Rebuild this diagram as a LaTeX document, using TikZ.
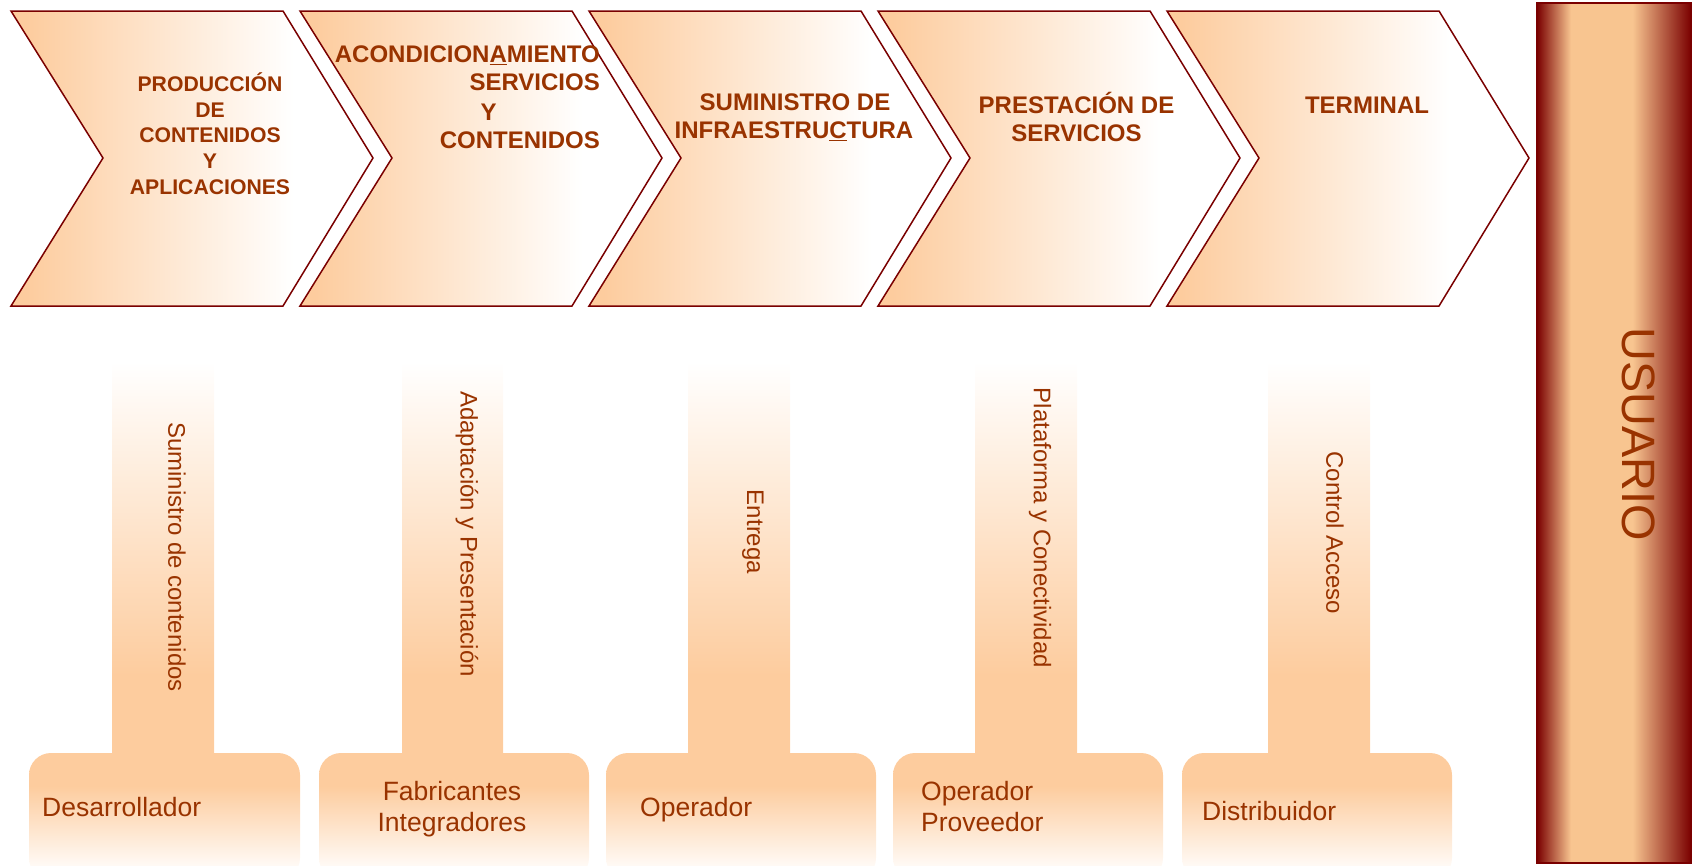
\documentclass[tikz,border=0pt]{standalone}
\usepackage{fontspec}
\setmainfont{Liberation Sans}
\definecolor{orng}{HTML}{FDCC9E}
\definecolor{txt}{HTML}{993300}
\definecolor{dkred}{HTML}{7A0000}
\definecolor{barlt}{HTML}{F8C590}
\pgfdeclarehorizontalshading{chevshade}{100bp}{color(0bp)=(orng); color(27bp)=(orng); color(64bp)=(white); color(100bp)=(white)}
\pgfdeclareverticalshading{stemshade}{100bp}{color(0bp)=(orng); color(34bp)=(orng); color(70bp)=(white); color(100bp)=(white)}
\pgfdeclareverticalshading{boxshade}{100bp}{color(0bp)=(white); color(27bp)=(white); color(62bp)=(orng); color(100bp)=(orng)}
\pgfdeclarehorizontalshading{barshade}{100bp}{color(0bp)=(dkred); color(25bp)=(dkred); color(36bp)=(barlt); color(56bp)=(barlt); color(75bp)=(dkred); color(100bp)=(dkred)}
\begin{document}
\begin{tikzpicture}[x=1pt,y=-1pt,
  chev/.style={draw=dkred, line width=1.5pt, shade, shading=chevshade},
  stem/.style={shade, shading=stemshade},
  pbox/.style={shade, shading=boxshade, rounded corners=22pt},
  hdA/.style={text=txt, inner sep=0pt, anchor=base, font=\bfseries\fontsize{21.2}{26}\selectfont},
  hdB/.style={text=txt, inner sep=0pt, anchor=base, font=\bfseries\fontsize{24}{28}\selectfont},
  vt/.style={text=txt, inner sep=0pt, rotate=-90, font=\fontsize{24}{28}\selectfont},
  bt/.style={text=txt, inner sep=0pt, anchor=base west, font=\fontsize{26.5}{31}\selectfont}]
\useasboundingbox (0,0) rectangle (1694,865);
% chevrons
\foreach \i in {0,...,4}{
  \pgfmathsetmacro\dx{289*\i}
  \path[chev] (11+\dx,11) -- (283+\dx,11) -- (373+\dx,158) -- (283+\dx,306) -- (11+\dx,306) -- (103+\dx,158) -- cycle;
}
% bottom boxes
\foreach \l/\r in {29/300,319/589,606/876,893/1163,1182/1452}{
  \path[pbox] (\l,880) -- (\l,753) -- (\r,753) -- (\r,880) -- cycle;
}
% stems
\foreach \l/\r in {112/214,402/503,688/790,975/1077,1268/1370}{
  \path[stem] (\l,318) rectangle (\r,754);
}
% user bar
\path[draw=dkred, line width=1.4pt, shade, shading=barshade] (1537,3) rectangle (1691,863);
\node[text=txt, inner sep=0pt, rotate=-90, font=\fontsize{46.8}{50}\selectfont] (usr) at (1639,434) {USUARIO};
% headings
\node[hdA] (h1a) at (210,91.5) {PRODUCCIÓN};
\node[hdA] (h1b) at (210,117) {DE};
\node[hdA] (h1c) at (210,142.7) {CONTENIDOS};
\node[hdA] (h1d) at (210,168.3) {Y};
\node[hdA] (h1e) at (210,194) {APLICACIONES};
\node[hdB, anchor=base east] (h2a) at (600,62.5) {ACONDICION\underline{A}MIENTO};
\node[hdB, anchor=base east] (h2b) at (600,90.7) {SERVICIOS};
\node[hdB] (h2c) at (488.5,120) {Y};
\node[hdB, anchor=base east] (h2d) at (600,148) {CONTENIDOS};
\node[hdB] (h3a) at (795,110) {SUMINISTRO DE};
\node[hdB] (h3b) at (794,138.3) {INFRAESTRU\underline{C}TURA};
\node[hdB] (h4a) at (1076.5,113.3) {PRESTACIÓN DE};
\node[hdB] (h4b) at (1076.5,141) {SERVICIOS};
\node[hdB] (h5a) at (1367,113.3) {TERMINAL};
% vertical labels
\node[vt] (v1) at (177,557) {Suministro de contenidos};
\node[vt] (v2) at (467,534) {Adaptación y Presentación};
\node[vt] (v3) at (753,532) {Entrega};
\node[vt] (v4) at (1040,528) {Plataforma y Conectividad};
\node[vt] (v5) at (1335,533) {Control Acceso};
% bottom labels
\node[bt] (b1) at (42,816) {Desarrollador};
\node[bt, anchor=base] (b2a) at (452,800) {Fabricantes};
\node[bt, anchor=base] (b2b) at (452,831) {Integradores};
\node[bt] (b3) at (640,816.5) {Operador};
\node[bt] (b4a) at (921,800.7) {Operador};
\node[bt] (b4b) at (921,831.7) {Proveedor};
\node[bt] (b5) at (1202,820) {Distribuidor};
\end{tikzpicture}
\end{document}
